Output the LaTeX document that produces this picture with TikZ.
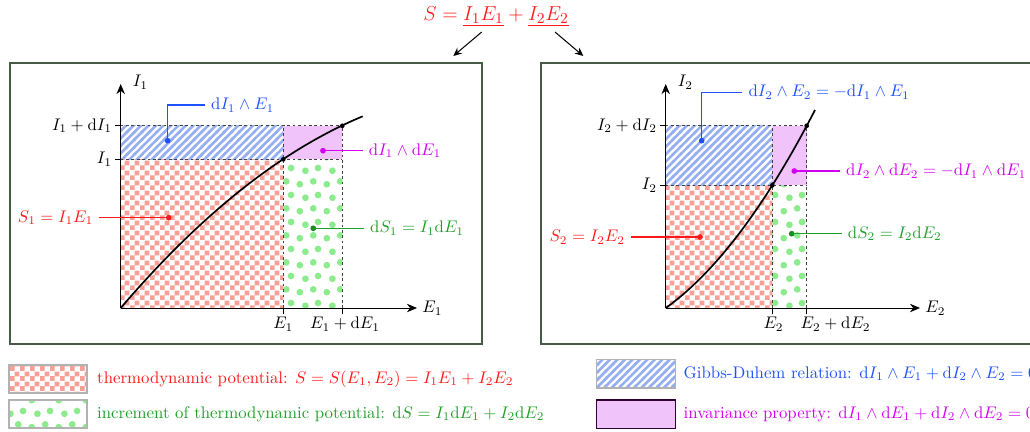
\documentclass[tikz,border=0pt]{standalone}
\usetikzlibrary{patterns,arrows.meta}
\definecolor{cblue}{RGB}{30,80,255}
\definecolor{cgreen}{RGB}{30,160,40}
\definecolor{cviolet}{RGB}{210,0,240}
\definecolor{cred}{RGB}{255,25,25}
\definecolor{cframe}{RGB}{70,90,70}
\definecolor{fchecker}{RGB}{248,160,150}
\definecolor{fstripe}{RGB}{150,175,240}
\definecolor{fdots}{RGB}{140,235,140}
\definecolor{fviolet}{RGB}{240,195,250}
\newcommand{\drm}{\mathrm{d}}
\pgfdeclarepatternformonly{mychecker}{\pgfpointorigin}{\pgfqpoint{6pt}{6pt}}{\pgfqpoint{6pt}{6pt}}{%
  \pgfpathrectangle{\pgfpointorigin}{\pgfqpoint{3.05pt}{3.05pt}}%
  \pgfpathrectangle{\pgfqpoint{3pt}{3pt}}{\pgfqpoint{3.05pt}{3.05pt}}%
  \pgfusepath{fill}}
\pgfdeclarepatternformonly{mystripes}{\pgfqpoint{-1pt}{-1pt}}{\pgfqpoint{5.45pt}{5.45pt}}{\pgfqpoint{4.45pt}{4.45pt}}{%
  \pgfsetlinewidth{1.55pt}%
  \pgfpathmoveto{\pgfqpoint{-1pt}{-1pt}}\pgfpathlineto{\pgfqpoint{5.45pt}{5.45pt}}%
  \pgfusepath{stroke}}
\pgfdeclarepatternformonly{mydots}{\pgfpointorigin}{\pgfqpoint{16pt}{16pt}}{\pgfqpoint{16pt}{16pt}}{%
  \pgfpathcircle{\pgfqpoint{2.85pt}{2.85pt}}{2pt}%
  \pgfpathcircle{\pgfqpoint{10.85pt}{4.55pt}}{2pt}%
  \pgfpathcircle{\pgfqpoint{6.2pt}{10.85pt}}{2pt}%
  \pgfpathcircle{\pgfqpoint{13.7pt}{12.5pt}}{2pt}%
  \pgfusepath{fill}}
\tikzset{
  frame/.style={draw=cframe, line width=0.9pt},
  axis/.style={-{Stealth[length=6pt,width=5pt]}, line width=0.5pt},
  guide/.style={dash pattern=on 1.6pt off 1.6pt, line width=0.45pt, black!75},
  tick/.style={line width=0.5pt},
  curve/.style={line width=1pt},
  cdot/.style={circle, fill=#1, inner sep=0pt, minimum size=3.4pt},
  pdot/.style={circle, fill=black, inner sep=0pt, minimum size=2.8pt},
  leader/.style={line width=0.75pt},
  lab/.style={inner sep=3.5pt},
  ticklab/.style={inner sep=2pt},
  checkfill/.style={pattern=mychecker, pattern color=fchecker},
  stripefill/.style={pattern=mystripes, pattern color=fstripe},
  dotsfill/.style={pattern=mydots, pattern color=fdots},
  violetfill/.style={fill=fviolet},
  legbox/.style={draw=black!30, line width=0.7pt},
  pointer/.style={-{Stealth[length=5pt,width=4.5pt]}, line width=0.6pt},
  axlab/.style={anchor=south west, inner sep=1pt, xshift=6pt, yshift=-4.5pt},
}
\begin{document}
\begin{tikzpicture}[x=0.595pt, y=-0.595pt]
\useasboundingbox (0,0) rectangle (1030,431);

% ---------- top formula ----------
\node[cred, anchor=base, font=\fontsize{13}{15}\selectfont, inner sep=0pt] (formula) at (496,20)
  {$S=\underline{I_1E_1}+\underline{I_2E_2}$};
\coordinate (a1s) at (481.7,32);
\coordinate (a1e) at (453.3,56);
\coordinate (a2s) at (555,32);
\coordinate (a2e) at (583.3,56);
\draw[pointer] (a1s) -- (a1e);
\draw[pointer] (a2s) -- (a2e);

% ---------- frames ----------
\draw[frame] (10,63) rectangle (482,344);
\draw[frame] (541,63) rectangle (1045,344);

% ---------- left panel ----------
\coordinate (O1) at (120.7,308);
\coordinate (xa1) at (283.3,308);
\coordinate (xb1) at (342.3,308);
\coordinate (ya1) at (120.7,159.3);
\coordinate (yb1) at (120.7,125.8);
\coordinate (P1) at (283.3,159.3);
\coordinate (P2) at (342.3,125.8);
\coordinate (Q1) at (283.3,125.8);
\coordinate (Q2) at (342.3,159.3);

\fill[checkfill] (O1) rectangle (P1);
\fill[stripefill] (ya1) rectangle (Q1);
\fill[violetfill] (P1) rectangle (P2);
\fill[dotsfill] (xa1) rectangle (Q2);

\draw[guide] (yb1) -- (P2);
\draw[guide] (ya1) -- (Q2);
\draw[guide] (xa1) -- (Q1);
\draw[guide] (xb1) -- (P2);

\draw[tick] (xa1) -- ++(0,5.5);
\draw[tick] (xb1) -- ++(0,5.5);
\draw[tick] (ya1) -- ++(-5.5,0);
\draw[tick] (yb1) -- ++(-5.5,0);

\draw[axis] (O1) -- (417,308) node[anchor=west, inner sep=3pt] (E1lab) {$E_1$};
\draw[axis] (O1) -- (120.7,84) node[axlab] (I1lab) {$I_1$};

\node[ticklab, anchor=north] (tE1) at (283.3,313.5) {$E_1$};
\node[ticklab, anchor=north] (tE1b) at (345,313.5) {$E_1+\drm E_1$};
\node[ticklab, anchor=east] (tI1) at (115.5,159.3) {$I_1$};
\node[ticklab, anchor=east] (tI1b) at (115.5,125.8) {$I_1+\drm I_1$};

\draw[curve] plot[domain=0:242, samples=60] ({120.7+\x},{308-1.1688*\x+0.001564*\x*\x});
\node[pdot] (p1) at (P1) {};
\node[pdot] (p2) at (P2) {};

\node[cdot=cblue] (b1) at (167.7,140.7) {};
\node[lab, cblue, anchor=west] (lb1) at (205,105) {$\drm I_1\wedge E_1$};
\draw[leader, cblue] (b1.center) |- (lb1.west);

\node[cdot=cviolet] (v1) at (323,150.7) {};
\node[lab, cviolet, anchor=west] (lv1) at (362.7,150.7) {$\drm I_1\wedge \drm E_1$};
\draw[leader, cviolet] (v1.center) -- (lv1.west);

\node[cdot=cred] (r1) at (168.7,217.7) {};
\node[lab, cred, anchor=east] (lr1) at (99.3,217.7) {$S_1=I_1E_1$};
\draw[leader, cred] (r1.center) -- (lr1.east);

\node[cdot=cgreen!85!black] (g1) at (313.3,228.3) {};
\node[lab, cgreen, anchor=west] (lg1) at (364,228.3) {$\drm S_1=I_1\drm E_1$};
\draw[leader, cgreen] (g1.center) -- (lg1.west);

% ---------- right panel ----------
\coordinate (O2) at (665.7,308);
\coordinate (xa2) at (772.3,308);
\coordinate (xb2) at (806.7,308);
\coordinate (ya2) at (665.7,185.3);
\coordinate (yb2) at (665.7,125.8);
\coordinate (R1) at (772.3,185.3);
\coordinate (R2) at (806.7,125.8);
\coordinate (S1) at (772.3,125.8);
\coordinate (S2) at (806.7,185.3);

\fill[checkfill] (O2) rectangle (R1);
\fill[stripefill] (ya2) rectangle (S1);
\fill[violetfill] (R1) rectangle (R2);
\fill[dotsfill] (xa2) rectangle (S2);

\draw[guide] (yb2) -- (R2);
\draw[guide] (ya2) -- (S2);
\draw[guide] (xa2) -- (S1);
\draw[guide] (xb2) -- (R2);

\draw[tick] (xa2) -- ++(0,5.5);
\draw[tick] (xb2) -- ++(0,5.5);
\draw[tick] (ya2) -- ++(-5.5,0);
\draw[tick] (yb2) -- ++(-5.5,0);

\draw[axis] (O2) -- (920,308) node[anchor=west, inner sep=3pt] (E2lab) {$E_2$};
\draw[axis] (O2) -- (665.7,84) node[axlab] (I2lab) {$I_2$};

\node[ticklab, anchor=north] (tE2) at (773.5,313.5) {$E_2$};
\node[ticklab, anchor=north west] (tE2b) at (797,313.5) {$E_2+\drm E_2$};
\node[ticklab, anchor=east] (tI2) at (660.5,185.3) {$I_2$};
\node[ticklab, anchor=east] (tI2b) at (660.5,125.8) {$I_2+\drm I_2$};

\draw[curve] plot[domain=0:149.3, samples=60] ({665.7+\x},{308-0.7134*\x-0.004105*\x*\x});
\node[pdot] (r1p) at (R1) {};
\node[pdot] (r2p) at (R2) {};

\node[cdot=cblue] (b2) at (701.7,140.7) {};
\node[lab, cblue, anchor=west] (lb2) at (742.3,92.3) {$\drm I_2\wedge E_2=-\drm I_1\wedge E_1$};
\draw[leader, cblue] (b2.center) |- (lb2.west);

\node[cdot=cviolet] (v2) at (794.3,171) {};
\node[lab, cviolet, anchor=west] (lv2) at (840,171) {$\drm I_2\wedge \drm E_2=-\drm I_1\wedge \drm E_1$};
\draw[leader, cviolet] (v2.center) -- (lv2.west);

\node[cdot=cred] (r2) at (700,237) {};
\node[lab, cred, anchor=east] (lr2) at (631,237) {$S_2=I_2E_2$};
\draw[leader, cred] (r2.center) -- (lr2.east);

\node[cdot=cgreen!85!black] (g2) at (791.7,233.7) {};
\node[lab, cgreen, anchor=west] (lg2) at (841.7,233.7) {$\drm S_2=I_2\drm E_2$};
\draw[leader, cgreen] (g2.center) -- (lg2.west);

% ---------- legend ----------
\fill[checkfill] (9,365) rectangle (87,393);
\draw[legbox] (9,365) rectangle (87,393);
\node[lab, cred, anchor=west] (leg1) at (91,379) {thermodynamic potential: $S=S(E_1,E_2)=I_1E_1+I_2E_2$};

\fill[dotsfill] (9,400) rectangle (87,428);
\draw[legbox] (9,400) rectangle (87,428);
\node[lab, cgreen, anchor=west] (leg2) at (91,414) {increment of thermodynamic potential: $\drm S=I_1\drm E_1+I_2\drm E_2$};

\fill[stripefill] (596.7,359.3) rectangle (675.7,388);
\draw[legbox] (596.7,359.3) rectangle (675.7,388);
\node[lab, cblue, anchor=west] (leg3) at (677.5,373.7) {Gibbs-Duhem relation: $\drm I_1\wedge E_1+\drm I_2\wedge E_2=0$};

\draw[violetfill, draw=black!60!violet, line width=0.7pt] (596.7,400) rectangle (675.7,428.3);
\node[lab, cviolet, anchor=west] (leg4) at (677.5,414) {invariance property: $\drm I_1\wedge\drm E_1+\drm I_2\wedge\drm E_2=0$};
\end{tikzpicture}
\end{document}
